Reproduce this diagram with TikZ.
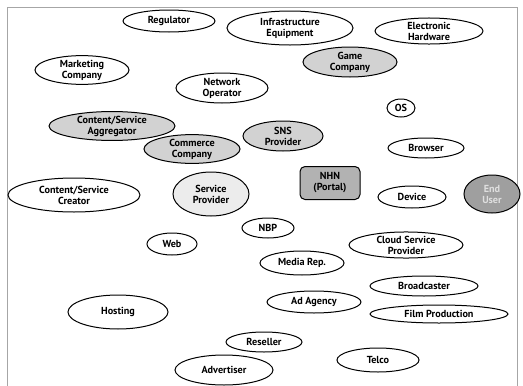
\documentclass[tikz,border=0pt]{standalone}
\usepackage{fontspec}
\setmainfont{PT Sans}
\usetikzlibrary{shapes.geometric}
\begin{document}
\begin{tikzpicture}[x=1pt,y=-1pt,
  el/.style={ellipse,draw=black,line width=1pt,inner sep=0pt,align=center,font=\fontsize{10.2}{11}\selectfont\bfseries,fill=white},
  gr/.style={el,fill=gray!35},
  lg/.style={el,fill=gray!15},
  frame/.style={draw=gray!70,line width=0.6pt}]
\useasboundingbox (0,0) rectangle (523,386);
\draw[frame] (7,386) -- (7,7) -- (517,7) -- (517,386);
\newcommand{\E}[6][el]{\node[#1,minimum width=#4*2pt,minimum height=#5*2pt] (#2) at (#3) {#6};}
\E{reg}{169,21}{46}{11}{Regulator}
\E{infra}{290,28}{63}{17}{Infrastructure\\Equipment}
\E{ehw}{429,31}{54}{13}{Electronic\\Hardware}
\E{mkt}{82,70}{47}{12}{Marketing\\Company}
\E{net}{222,88}{46}{15}{Network\\Operator}
\E[gr]{game}{350,62}{47}{15}{Game\\Company}
\E{os}{401,108}{14}{9}{OS}
\E[gr]{agg}{112,126}{63}{14}{Content/Service\\Aggregator}
\E[gr]{com}{192,149}{48}{14}{Commerce\\Company}
\E[gr]{sns}{283,136}{40}{15}{SNS\\Provider}
\E{brw}{426,148}{38}{10}{Browser}
\E{cre}{74,195}{66}{17}{Content/Service\\Creator}
\E[lg]{sp}{211,194}{38}{22}{Service\\Provider}
\node[draw=black,line width=1pt,fill=gray!60,rounded corners=5pt,minimum width=60pt,minimum height=33pt,inner sep=0pt,align=center,font=\fontsize{10.2}{11}\selectfont\bfseries] (nhn) at (330,183) {NHN\\(Portal)};
\E{dev}{412,197}{34}{11}{Device}
\node[ellipse,draw=black,line width=1pt,fill=gray!75,minimum width=56pt,minimum height=38pt,inner sep=0pt,align=center,font=\fontsize{10.2}{11}\selectfont\bfseries,text=gray!25] (eu) at (492,194) {End\\User};
\E{nbp}{268,228}{26}{10}{NBP}
\E{web}{172,244}{25}{11}{Web}
\E{csp}{406,245}{57}{13}{Cloud Service\\Provider}
\E{mrep}{302,263}{42}{12}{Media Rep.}
\E{bc}{424,286}{54}{10}{Broadcaster}
\E{ad}{314,302}{47}{11}{Ad Agency}
\E{film}{439,314}{69}{9}{Film Production}
\E{host}{118,312}{50}{17}{Hosting}
\E{res}{264,342}{38}{10}{Reseller}
\E{adv}{224,370}{49}{15}{Advertiser}
\E{telco}{378,360}{41}{12}{Telco}
\end{tikzpicture}
\end{document}
